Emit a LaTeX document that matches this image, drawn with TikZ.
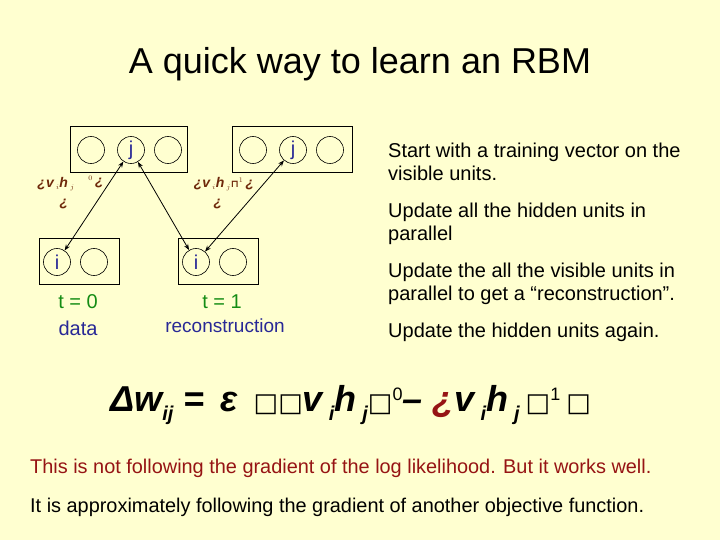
\documentclass[tikz,border=0pt]{standalone}
\usepackage{fontspec}
\usetikzlibrary{arrows.meta}
\setmainfont{Liberation Sans}
\newfontfamily\dejavu{DejaVu Sans}
\definecolor{bg}{RGB}{255,255,208}
\definecolor{brn}{RGB}{110,40,10}
\definecolor{grn}{RGB}{20,140,20}
\definecolor{blu}{RGB}{40,40,150}
\definecolor{rd}{RGB}{150,20,20}
\newcommand{\sq}{{\dejavu\fontsize{26}{26}\selectfont\mdseries\upshape □}}
\newcommand{\sbx}[1]{\raisebox{-9pt}{\fontsize{20}{20}\selectfont #1}}
\newcommand{\spx}[1]{\raisebox{11pt}{\fontsize{18}{18}\selectfont\mdseries\upshape #1}}
\begin{document}
\begin{tikzpicture}[x=1pt,y=-1pt,
  unit/.style={circle,draw,semithick,minimum size=27pt,inner sep=0pt,text=blu,font=\fontsize{20}{20}\selectfont},
  layer/.style={draw,semithick,fill=bg},
  conn/.style={<->,>={Stealth[length=6pt,width=4.5pt]},thick},
  lab/.style={text=brn,font=\fontsize{14}{14}\selectfont\bfseries\itshape,inner sep=0pt},
  body/.style={anchor=west,align=left,font=\fontsize{20}{23}\selectfont,inner sep=0pt}]
\fill[bg] (0,0) rectangle (720,540);
\useasboundingbox (0,0) rectangle (720,540);
\node[font=\fontsize{36}{36}\selectfont] (title) at (360,64) {A quick way to learn an RBM};
% boxes
\draw[layer] (70,126) rectangle (187,172);
\draw[layer] (232,126) rectangle (352,172);
\draw[layer] (39,238) rectangle (119,284);
\draw[layer] (178,238) rectangle (258,284);
\node[unit] (h1a) at (91,150) {};
\node[unit] (h1j) at (131,150) {j};
\node[unit] (h1c) at (168,150) {};
\node[unit] (h2a) at (253,150) {};
\node[unit] (h2j) at (293,150) {j};
\node[unit] (h2c) at (330,150) {};
\node[unit] (v1i) at (57,262) {i};
\node[unit] (v1b) at (94,262) {};
\node[unit] (v2i) at (196,262) {i};
\node[unit] (v2b) at (233,262) {};
\draw[conn] (h1j) -- (v1i);
\draw[conn] (h1j) -- (v2i);
\draw[conn] (h2j) -- (v2i);
% labels
\node[lab] (l1) at (56,184) {¿v\,$_{\scriptscriptstyle i}$h\,$_{\scriptscriptstyle j}$};
\node[lab] (l1b) at (96,182) {$^{\scriptscriptstyle 0}$\,¿};
\node[lab] (l1c) at (64,204) {¿};
\node[lab] (l2) at (224,184) {¿v\,$_{\scriptscriptstyle i}$h\,$_{\scriptscriptstyle j}${\dejavu\fontsize{10}{10}\selectfont ⊓}$^{\scriptscriptstyle 1}$\,¿};
\node[lab] (l2c) at (218,204) {¿};
\node[text=grn,font=\fontsize{20}{20}\selectfont] (t0) at (78,302) {t = 0};
\node[text=blu,font=\fontsize{20}{20}\selectfont] (d0) at (78,328) {data};
\node[text=grn,font=\fontsize{20}{20}\selectfont] (t1) at (222,302) {t = 1};
\node[text=blu,font=\fontsize{19}{19}\selectfont] (d1) at (225,326) {reconstruction};
% right text
\node[body] (s1) at (388,162) {Start with a training vector on the\\visible units.};
\node[body] (s2) at (388,224) {Update all the hidden units in\\parallel};
\node[body] (s3) at (388,284) {Update the all the visible units in\\parallel to get a “reconstruction”.};
\node[body] (s4) at (388,332) {Update the hidden units again.};
% formula
\node[anchor=west,inner sep=0pt,font=\fontsize{36}{36}\selectfont\bfseries\itshape] (f) at (110,405)
 {Δw\sbx{ij} = \,ε\, \sq\sq v\,\sbx{i}h\,\sbx{j}\sq\spx{0}– {\color{rd}¿}v\,\sbx{i}h\,\sbx{j}\,\sq\spx{1}\,\sq};
\node[anchor=west,inner sep=0pt,text=rd,font=\fontsize{19.9}{19.9}\selectfont] (b1) at (30,468) {This is not following the gradient of the log likelihood. But it works well.};
\node[anchor=west,inner sep=0pt,font=\fontsize{19.9}{19.9}\selectfont] (b2) at (30,507) {It is approximately following the gradient of another objective function.};
\end{tikzpicture}
\end{document}
